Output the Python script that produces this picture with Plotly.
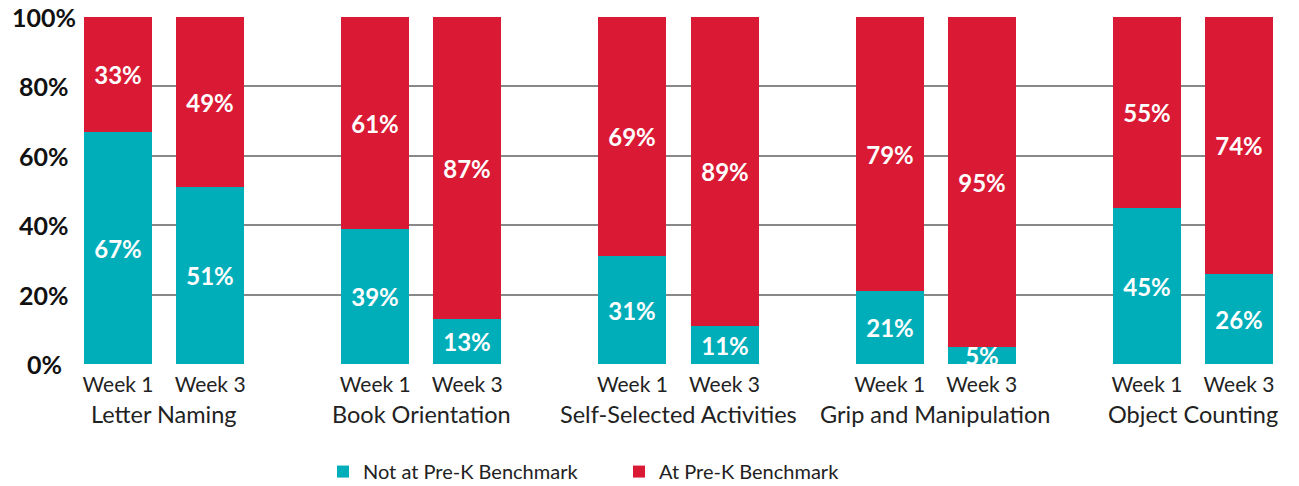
import plotly.graph_objects as go

groups = ["Letter Naming", "Book Orientation", "Self-Selected Activities",
          "Grip and Manipulation", "Object Counting"]
weeks = ["Week 1", "Week 3"]
not_at = [[67, 51], [39, 13], [31, 11], [21, 5], [45, 26]]
at = [[33, 49], [61, 87], [69, 89], [79, 95], [55, 74]]
y_ticks = [0, 20, 40, 60, 80, 100]

TEAL = "#00AEB9"
RED = "#DA1A35"
FONT = "Lato"

GROUP_STEP = 257
BAR_STEP = 92
BAR_W = 68

xs, ticktext, v_not, v_at = [], [], [], []
for g in range(len(groups)):
    for b in range(len(weeks)):
        xs.append(g * GROUP_STEP + b * BAR_STEP)
        ticktext.append(weeks[b])
        v_not.append(not_at[g][b])
        v_at.append(at[g][b])

label_font = dict(color="white", size=24, family=FONT, weight="bold")

fig = go.Figure()
fig.add_trace(go.Bar(
    x=xs, y=v_not, width=BAR_W, name="Not at Pre-K Benchmark",
    marker=dict(color=TEAL, line=dict(width=0)),
    text=[f"{v}%" for v in v_not], textposition="inside", insidetextanchor="middle",
    textfont=label_font, textangle=0, constraintext="none",
))
fig.add_trace(go.Bar(
    x=xs, y=v_at, width=BAR_W, name="At Pre-K Benchmark",
    marker=dict(color=RED, line=dict(width=0)),
    text=[f"{v}%" for v in v_at], textposition="inside", insidetextanchor="middle",
    textfont=label_font, textangle=0, constraintext="none",
))

for g, name in enumerate(groups):
    fig.add_annotation(
        x=g * GROUP_STEP + BAR_STEP / 2, y=0, xref="x", yref="paper",
        yshift=-50, text=name, showarrow=False,
        font=dict(size=23.5, color="#222222", family=FONT), yanchor="middle",
    )

for v in y_ticks:
    fig.add_annotation(
        x=-0.0336, y=v, xref="paper", yref="y", text=f"{v}%", showarrow=False,
        xanchor="center", yanchor="middle",
        font=dict(size=25, color="#111111", family=FONT, weight="bold"),
    )

fig.update_layout(
    barmode="stack",
    width=1299, height=486,
    margin=dict(l=84, r=26, t=17, b=122, autoexpand=False),
    plot_bgcolor="white", paper_bgcolor="white",
    font=dict(family=FONT, color="#111111"),
    xaxis=dict(
        range=[-BAR_W / 2, 4 * GROUP_STEP + BAR_STEP + BAR_W / 2],
        tickvals=xs, ticktext=ticktext, showgrid=False, zeroline=False,
        showline=False, ticks="", ticklabelstandoff=6, automargin=False,
        tickfont=dict(size=21, color="#222222", family=FONT),
    ),
    yaxis=dict(
        range=[0, 100], tickvals=y_ticks, showticklabels=False,
        showgrid=True, gridcolor="#888888", gridwidth=1.5, zeroline=False,
        showline=False, ticks="", automargin=False,
    ),
    showlegend=True,
    legend=dict(
        orientation="h", x=0.201, xanchor="left", y=-0.31, yanchor="middle",
        font=dict(size=20, color="#222222", family=FONT), entrywidth=251,
        traceorder="normal", itemclick=False, itemdoubleclick=False,
    ),
    bargap=0,
)

fig.write_html(
    "out.html",
    config={"displayModeBar": False},
    post_script="document.body.style.margin='0';document.body.style.overflow='hidden';",
)
